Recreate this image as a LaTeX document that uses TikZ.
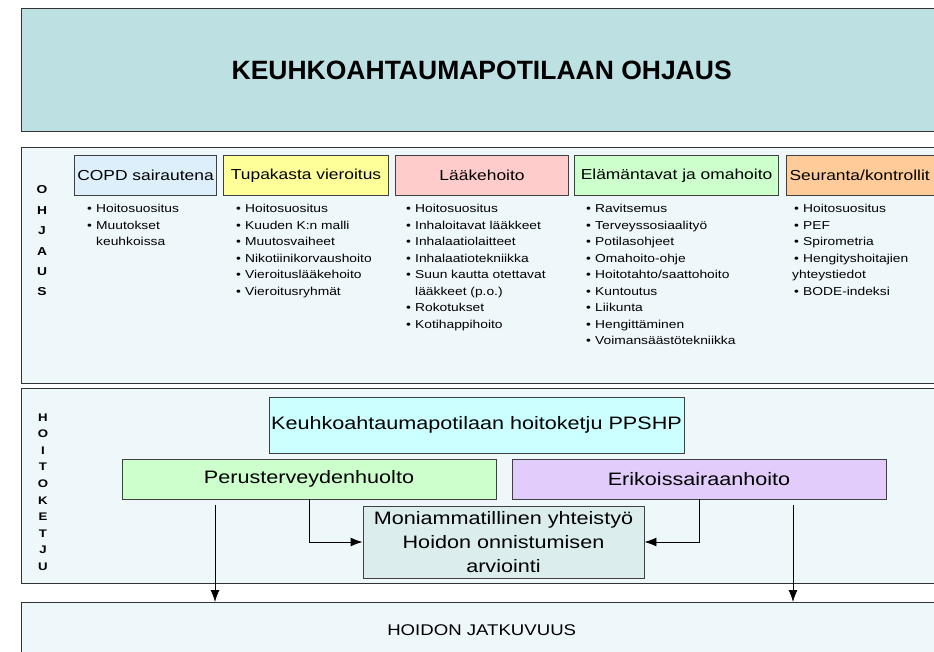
\documentclass[tikz,border=0pt]{standalone}
\usepackage{fontspec}
\setmainfont[FakeStretch=1.2]{Liberation Sans}
\newfontfamily\titlefont{Liberation Sans}
\usetikzlibrary{arrows.meta}

\definecolor{titlebg}{HTML}{BDE0E3}
\definecolor{panelbg}{HTML}{EEF7F9}
\definecolor{copdbg}{HTML}{DDEFFB}
\definecolor{smokebg}{HTML}{FFFF99}
\definecolor{drugbg}{HTML}{FFCCCC}
\definecolor{lifebg}{HTML}{CCFFCC}
\definecolor{followbg}{HTML}{FFCC99}
\definecolor{chainbg}{HTML}{CCFFFF}
\definecolor{primbg}{HTML}{CCFFCC}
\definecolor{specbg}{HTML}{E2CCFB}
\definecolor{multibg}{HTML}{DCEDED}

\newcommand{\bul}{\makebox[9pt][l]{\textbullet}}
\newcommand{\ind}{\hspace*{9pt}}

\begin{document}
\begin{tikzpicture}[x=1pt,y=-1pt]
   \tikzstyle{panel}=[draw=black!80,line width=1.4pt,fill=panelbg,anchor=north west,minimum width=920pt,inner sep=0pt]
   \tikzstyle{head}=[draw=black!75,line width=1.1pt,anchor=north west,minimum height=40pt,inner sep=1pt,font=\fontsize{14.5}{17}\selectfont]
   \tikzstyle{items}=[anchor=north west,align=left,inner sep=0pt,font=\fontsize{11.5}{16.5}\selectfont]
   \tikzstyle{side}=[align=center,inner sep=0pt]
   \tikzstyle{chainbox}=[draw=black!75,line width=.9pt,align=center,inner sep=0pt,font=\fontsize{18}{24}\selectfont]
   \tikzstyle{arrow}=[draw,line width=.9pt,-{Latex[length=12pt,width=9pt]}]
   \clip (0,0) rectangle (934,652) ;
   % the four bands
   \node (title) [panel,fill=titlebg,minimum height=123pt,font=\titlefont\bfseries\fontsize{26.5}{30}\selectfont] at (21,8) {KEUHKOAHTAUMAPOTILAAN OHJAUS} ;
   \node (ohjaus) [panel,minimum height=236pt] at (21,147) {} ;
   \node (ketju) [panel,minimum height=195pt] at (21,388) {} ;
   \node (jatk) [panel,minimum height=54pt,font=\fontsize{15.5}{18}\selectfont] at (21,602) {HOIDON JATKUVUUS} ;
   \node (ohjlbl) [side,font=\bfseries\fontsize{11.5}{20.4}\selectfont] at (42,241) {O\\H\\J\\A\\U\\S} ;
   \node (ketjulbl) [side,font=\bfseries\fontsize{11}{16.55}\selectfont] at (43,492) {H\\O\\I\\T\\O\\K\\E\\T\\J\\U} ;
   % ohjaus columns
   \node (copd) [head,fill=copdbg,minimum width=142pt] at (74,155) {COPD sairautena} ;
   \node (smoke) [head,fill=smokebg,minimum width=165pt] at (223,155) {Tupakasta vieroitus} ;
   \node (drug) [head,fill=drugbg,minimum width=173pt] at (395,155) {Lääkehoito} ;
   \node (life) [head,fill=lifebg,minimum width=204pt] at (574,155) {Elämäntavat ja omahoito} ;
   \node (follow) [head,fill=followbg,text width=156pt,inner sep=3pt,align=left] at (786,155) {Seuranta/kontrollit} ;
   \node (copdlist) [items] at (87,204) {\bul Hoitosuositus\\ \bul Muutokset\\ \ind keuhkoissa} ;
   \node (smokelist) [items] at (236,204) {\bul Hoitosuositus\\ \bul Kuuden K:n malli\\ \bul Muutosvaiheet\\ \bul Nikotiinikorvaushoito\\ \bul Vieroituslääkehoito\\ \bul Vieroitusryhmät} ;
   \node (druglist) [items] at (406,204) {\bul Hoitosuositus\\ \bul Inhaloitavat lääkkeet\\ \bul Inhalaatiolaitteet\\ \bul Inhalaatiotekniikka\\ \bul Suun kautta otettavat\\ \ind lääkkeet (p.o.)\\ \bul Rokotukset\\ \bul Kotihappihoito} ;
   \node (lifelist) [items] at (586,204) {\bul Ravitsemus\\ \bul Terveyssosiaalityö\\ \bul Potilasohjeet\\ \bul Omahoito-ohje\\ \bul Hoitotahto/saattohoito\\ \bul Kuntoutus\\ \bul Liikunta\\ \bul Hengittäminen\\ \bul Voimansäästötekniikka} ;
   \node (followlist) [items] at (794,204) {\bul Hoitosuositus\\ \bul PEF\\ \bul Spirometria\\ \bul Hengityshoitajien\\ \hspace*{-2pt}yhteystiedot\\ \bul BODE-indeksi} ;
   % hoitoketju
   \node (chain) [chainbox,fill=chainbg,minimum width=415pt,minimum height=56pt] at (476.5,425) {Keuhkoahtaumapotilaan hoitoketju PPSHP} ;
   \node (prim) [chainbox,fill=primbg,minimum width=374pt,minimum height=40pt] at (309,479) {Perusterveydenhuolto} ;
   \node (spec) [chainbox,fill=specbg,minimum width=374pt,minimum height=40pt] at (699,479) {Erikoissairaanhoito} ;
   \node (multi) [chainbox,fill=multibg,minimum width=281pt,minimum height=72pt] at (503.5,542) {Moniammatillinen yhteistyö\\Hoidon onnistumisen\\arviointi} ;
   \path [arrow] (prim.south) |- (multi.west) ;
   \path [arrow] (spec.south) |- (multi.east) ;
   \coordinate (lfoot) at (215,505) ;
   \coordinate (rfoot) at (793,505) ;
   \path [arrow] (lfoot) -- (lfoot |- jatk.north) ;
   \path [arrow] (rfoot) -- (rfoot |- jatk.north) ;
\end{tikzpicture}
\end{document}
